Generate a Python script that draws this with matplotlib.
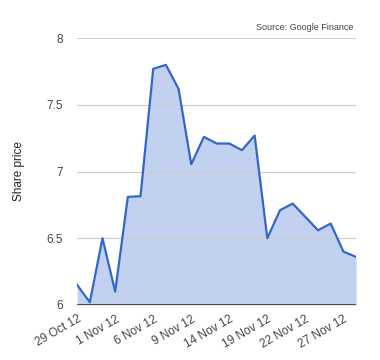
import matplotlib
matplotlib.use("Agg")
import matplotlib.pyplot as plt

plt.rcParams['font.family'] = ['Liberation Sans', 'DejaVu Sans']

# share price, one point per trading day
prices = [6.15, 6.02, 6.50, 6.10, 6.81, 6.815, 7.77, 7.80, 7.62, 7.055,
          7.26, 7.21, 7.21, 7.16, 7.27, 6.50, 6.71, 6.76, 6.66, 6.56,
          6.61, 6.40, 6.36]
tick_idx = [0, 3, 6, 9, 12, 15, 18, 21]
tick_labels = ['29 Oct 12', '1 Nov 12', '6 Nov 12', '9 Nov 12',
               '14 Nov 12', '19 Nov 12', '22 Nov 12', '27 Nov 12']
yticks = [6, 6.5, 7, 7.5, 8]

x = list(range(len(prices)))

fig = plt.figure(figsize=(3.8, 3.6), dpi=100)
ax = fig.add_axes([0.203, 0.153, 0.734, 0.741])

ax.fill_between(x, prices, 6, color='#c2d1f0', lw=0, zorder=1)
ax.plot(x, prices, color='#3366cc', lw=1.6, zorder=3)

ax.set_xlim(0, len(prices) - 1)
ax.set_ylim(6, 8)
ax.set_yticks(yticks)
ax.set_yticklabels(['6', '6.5', '7', '7.5', '8'])
ax.grid(axis='y', color='#cccccc', lw=0.8, zorder=2)
ax.axhline(6, color='#333333', lw=1.2, zorder=4)

ax.set_xticks(tick_idx)
ax.set_xticklabels(tick_labels, rotation=30, ha='right', rotation_mode='anchor')
for lbl in ax.get_xticklabels():
    lbl.set_x(lbl.get_position()[0])
ax.tick_params(axis='both', length=0, labelsize=8.5, colors='#444444')
ax.tick_params(axis='y', pad=10)
ax.tick_params(axis='x', pad=6)

for s in ax.spines.values():
    s.set_visible(False)

ax.set_ylabel('Share price', fontsize=8.5, color='#222222', labelpad=16)
fig.text(0.93, 0.912, 'Source: Google Finance', ha='right', va='bottom',
         fontsize=6.5, color='#444444')

fig.savefig('out.png', dpi=100)
